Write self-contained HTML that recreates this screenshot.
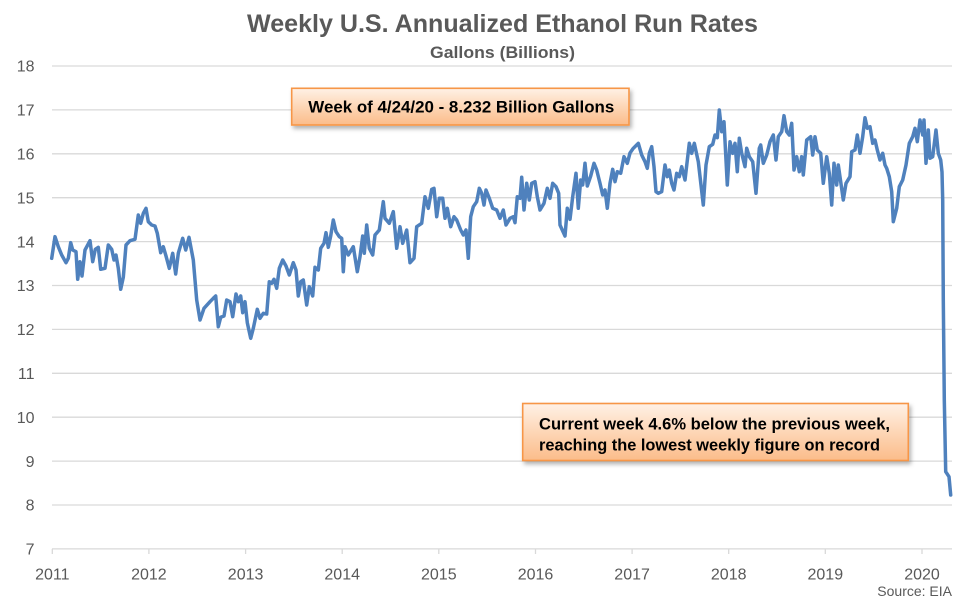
<!DOCTYPE html>
<html>
<head>
<meta charset="utf-8">
<style>
  html,body{margin:0;padding:0;background:#fff;}
  svg{display:block;}
  text{font-family:"Liberation Sans", Arial, sans-serif;}
</style>
</head>
<body>
<svg width="975" height="605" viewBox="0 0 975 605" xmlns="http://www.w3.org/2000/svg">
  <defs>
    <linearGradient id="og" x1="0" y1="0" x2="0" y2="1">
      <stop offset="0" stop-color="#fff1e6"/>
      <stop offset="0.5" stop-color="#fdd6b6"/>
      <stop offset="1" stop-color="#fbbc8a"/>
    </linearGradient>
    <filter id="sh" x="-10%" y="-20%" width="125%" height="160%">
      <feDropShadow dx="2" dy="3" stdDeviation="2" flood-color="#000" flood-opacity="0.3"/>
    </filter>
  </defs>
  <rect width="975" height="605" fill="#fff"/>

  <!-- Title -->
  <text x="247" y="32" font-size="25" font-weight="bold" fill="#595959" textLength="511" lengthAdjust="spacingAndGlyphs">Weekly U.S. Annualized Ethanol Run Rates</text>
  <text x="430" y="58" font-size="17" font-weight="bold" fill="#595959" textLength="145" lengthAdjust="spacingAndGlyphs">Gallons (Billions)</text>

  <!-- Gridlines -->
  <g stroke="#d9d9d9" stroke-width="1.3">
    <line x1="52" y1="66" x2="952" y2="66"/>
    <line x1="52" y1="109.9" x2="952" y2="109.9"/>
    <line x1="52" y1="153.8" x2="952" y2="153.8"/>
    <line x1="52" y1="197.7" x2="952" y2="197.7"/>
    <line x1="52" y1="241.6" x2="952" y2="241.6"/>
    <line x1="52" y1="285.5" x2="952" y2="285.5"/>
    <line x1="52" y1="329.4" x2="952" y2="329.4"/>
    <line x1="52" y1="373.3" x2="952" y2="373.3"/>
    <line x1="52" y1="417.2" x2="952" y2="417.2"/>
    <line x1="52" y1="461.1" x2="952" y2="461.1"/>
    <line x1="52" y1="505" x2="952" y2="505"/>
    <line x1="52" y1="548.9" x2="952" y2="548.9"/>
    <!-- ticks -->
    <line x1="52.3" y1="548.9" x2="52.3" y2="554"/>
    <line x1="148.9" y1="548.9" x2="148.9" y2="554"/>
    <line x1="245.6" y1="548.9" x2="245.6" y2="554"/>
    <line x1="342.2" y1="548.9" x2="342.2" y2="554"/>
    <line x1="438.8" y1="548.9" x2="438.8" y2="554"/>
    <line x1="535.5" y1="548.9" x2="535.5" y2="554"/>
    <line x1="632.1" y1="548.9" x2="632.1" y2="554"/>
    <line x1="728.7" y1="548.9" x2="728.7" y2="554"/>
    <line x1="825.3" y1="548.9" x2="825.3" y2="554"/>
    <line x1="922" y1="548.9" x2="922" y2="554"/>
  </g>

  <!-- Y labels -->
  <g font-size="16" fill="#595959" text-anchor="end">
    <text x="34.5" y="71.7">18</text>
    <text x="34.5" y="115.6">17</text>
    <text x="34.5" y="159.5">16</text>
    <text x="34.5" y="203.4">15</text>
    <text x="34.5" y="247.3">14</text>
    <text x="34.5" y="291.2">13</text>
    <text x="34.5" y="335.1">12</text>
    <text x="34.5" y="379">11</text>
    <text x="34.5" y="422.9">10</text>
    <text x="34.5" y="466.8">9</text>
    <text x="34.5" y="510.7">8</text>
    <text x="34.5" y="554.6">7</text>
  </g>

  <!-- X labels -->
  <g font-size="16" fill="#595959" text-anchor="middle">
    <text x="52.3" y="579.5">2011</text>
    <text x="148.9" y="579.5">2012</text>
    <text x="245.6" y="579.5">2013</text>
    <text x="342.2" y="579.5">2014</text>
    <text x="438.8" y="579.5">2015</text>
    <text x="535.5" y="579.5">2016</text>
    <text x="632.1" y="579.5">2017</text>
    <text x="728.7" y="579.5">2018</text>
    <text x="825.3" y="579.5">2019</text>
    <text x="922" y="579.5">2020</text>
  </g>
  <text x="952" y="596" font-size="14" fill="#595959" text-anchor="end">Source: EIA</text>

  <!-- Series -->
  <polyline fill="none" stroke="#4f81bd" stroke-width="3.5" stroke-linejoin="round" stroke-linecap="round" points="
51.7,258.3 55,236.7 58.3,246.7 61.7,255 66,262.7 68.3,258.3 70.7,242.7 72.7,250 76,251.7 77.7,279.3 80,261.7 82,276 85,250 90,240.7 92.7,261.7 95.3,249.3 98.3,247.3 100.7,269.3 105,268.3 108.3,245 111.7,249.3 114,260 116,255 118.3,268.3 120.7,289.3 123.3,277.3 126,245 130,240.7 135,239.3 138.3,215 140.7,223.3 143.3,213.3 146,208.3 148.3,221.7 151.7,225 155,226 157.3,233.3 160.7,252.7 163.3,246.7 166,256 169.3,268.3 172.7,253.3 175.7,274 178.3,253.3 182.7,238.3 185.7,250 189,237.3 193.3,260 196.7,300 200,320 204,308.3 210,301.7 213.3,298.3 215.7,296 218.3,326.7 220.7,317.3 224,316 226.7,300 230,301.7 232.7,316.7 236,294 238.3,301.7 240.7,296 242.7,312.7 245,301.7 247.3,322.7 250.7,338.3 253.3,328.3 257.3,309.3 260,318.3 263.3,313.3 266.7,314 269.3,281.7 271.7,283.3 274,279.3 276.7,288.3 279.3,268.3 282.7,260 286,266 289.3,275 293.3,262.7 296,270 298.3,296 300.7,281.7 303.3,280 306.7,305 309.3,286.7 312.7,296 315,267.3 318.3,270 320.7,248.3 324,243.3 326,232.7 328.3,247.3 330.7,236
333.3,220 336,231.7 339.3,236.7 341.7,238.3 343.3,271.7 345,246.7 348.3,255 353.3,246.7 357.3,271.7 360,256.7 362.7,236 364.3,253.3 366.7,225 369.3,248.3 372.7,255 375,235 379.3,230 383.3,201.7 385,218.3 389.3,223.3 393.3,211.7 396.7,248.3 400,226.7 402.7,243.3 406.7,230 410,262.7 414,258.3 416.7,226.7 421.7,223.3 425,196.7 428.3,208.3 431.7,189.3 434,188.3 436.7,216.7 439.3,198.3 442.7,198.3 445,218.3 447.3,208.3 450.7,226.7 454,216.7 456.7,220 460.7,230 463.3,235 466,230 468.3,258.3 470.7,216.7 473.3,206.7 476.7,201.7 479.3,188.3 481.7,193.3 484,205 486,190 489.3,198.3 492.7,208.3 496.7,210 500,218.3 503.3,210 506,225 510,218.3 513.3,216.7 515,222.7 517.3,196.7 520,198.3 521.7,177.3 524,210 526.7,183.3 529.3,200 531.7,183.3 535,181.7 537.3,196.7 540,210 544,203.3 547.3,188.3 550,198.3 552.7,183.3 556,186.7 558.7,193.3 560,225 565,236 567.3,208.3 570,219.3 572.7,196.7 576,173.3 578.3,208.3 580.7,180 582.7,185 585,163.3 587.3,186 590.7,176 594,163.3 596.7,170 600,183.3 602.7,195 605,190 607.3,208.3 610,183.3 612.7,169.3 615,181.7 617.3,171.7 620.7,173.3 624,156.7 627.3,163.3 630,153
633.3,148.3 638.3,143.3 641.7,155 645,161.7 647.3,168.3 649.3,153.3 651.7,146.7 654,166.7 656,191.7 658.3,193.3 661.7,191.7 665,165 667.3,176.7 669.3,170 671.7,183.3 674,190 676.7,173.3 679.3,176.7 681.7,166.7 685,180 689.3,143.3 691.7,153.3 694.3,143.3 698.3,161.7 701,185 703.3,205 706,165 709.3,146.7 712.7,144.3 715,135 717.3,137.7 719.3,110 721.7,131.7 724,121.7 727.3,185 730,141.7 732.7,153.3 735,143.3 737.3,171.7 739.3,138.3 741.7,153.3 745,166.7 746.7,148.3 749.3,156.7 752.7,161.7 756,193.3 759.3,148.3 760.7,145 763.3,163.3 766.7,155 770,141.7 773.3,135 776,160 778.3,136.7 781.7,131.7 784,115.7 786.7,131.7 789.3,135 791.7,123.3 794,170 796.7,156.7 799.3,171.7 801.7,156.7 803.3,175 806.7,140 810.7,136.7 812.7,155 815,136.7 817.3,150 820.7,153.3 823.3,183.3 826.7,156.7 829.3,173.3 831.7,205 834,163.3 836.7,185 838.3,165 840.7,181.7 843.3,200 846,183.3 850,176.7 851.7,151.7 855,150 857.3,135 860,153.3 862.7,136.7 865,117.7 867.3,128.3 870,126.7 872.7,143.3 875,140 877.3,150 880,160 882.7,153.3 885,165 886.7,168.3 889.3,176.7 891.7,191.7 893.3,221.7 896.7,208.3 899.3,186.7 902.7,180 906,165 909.3,143.3 912.7,136.7 915,128.3 917.3,141.7 920,120 922.7,135 924,120 926,163.3 928.3,130 930,158.3 932.7,156.7 936,130 938.3,153.3 940.7,160 942,172 942.7,200 943.3,300 944.3,400 945.7,471.7 949,476.7 950.7,495"/>

  <!-- Annotation 1 -->
  <rect x="291.7" y="88.3" width="337.3" height="36.7" fill="url(#og)" stroke="#f79646" stroke-width="1.6" filter="url(#sh)"/>
  <text x="308.3" y="112.7" font-size="16.5" font-weight="bold" fill="#000" textLength="306" lengthAdjust="spacingAndGlyphs">Week of 4/24/20 - 8.232 Billion Gallons</text>

  <!-- Annotation 2 -->
  <rect x="522.7" y="403.5" width="385.6" height="57" fill="url(#og)" stroke="#f79646" stroke-width="1.6" filter="url(#sh)"/>
  <text x="539" y="429.3" font-size="16.5" font-weight="bold" fill="#000" textLength="351" lengthAdjust="spacingAndGlyphs">Current week 4.6% below the previous week,</text>
  <text x="539" y="450.7" font-size="16.5" font-weight="bold" fill="#000" textLength="341" lengthAdjust="spacingAndGlyphs">reaching the lowest weekly figure on record</text>
</svg>
</body>
</html>
